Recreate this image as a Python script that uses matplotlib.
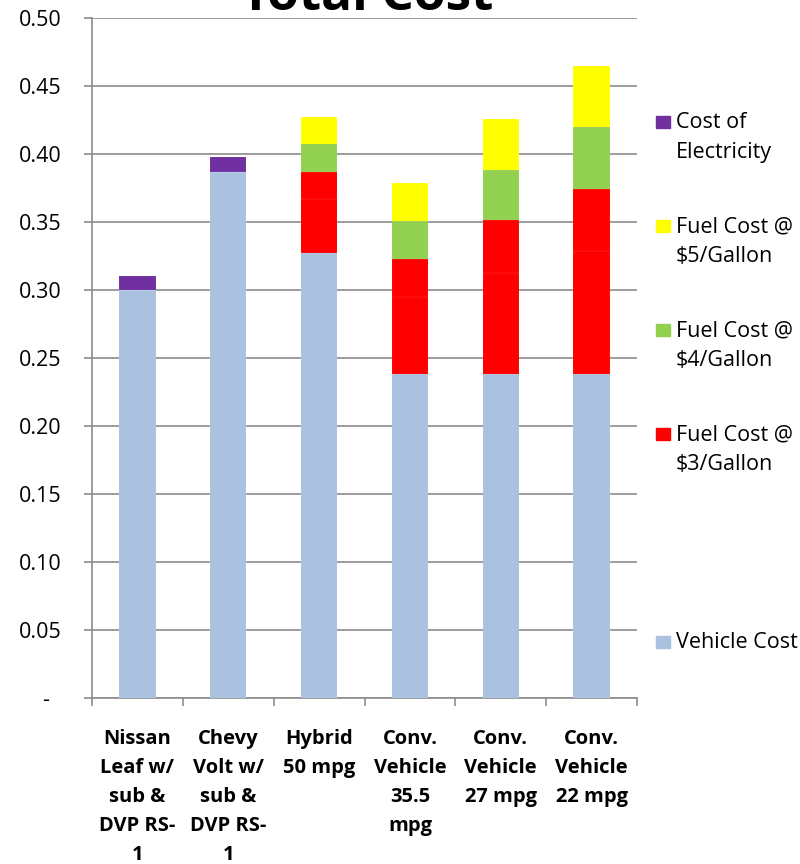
import matplotlib.pyplot as plt
import numpy as np

plt.rcParams['font.family'] = ['Open Sans', 'DejaVu Sans']

categories = [
    "Nissan\nLeaf w/\nsub &\nDVP RS-\n1",
    "Chevy\nVolt w/\nsub &\nDVP RS-\n1",
    "Hybrid\n50 mpg",
    "Conv.\nVehicle\n35.5\nmpg",
    "Conv.\nVehicle\n27 mpg",
    "Conv.\nVehicle\n22 mpg",
]

# stacked values, bottom to top
vehicle_cost = [0.300, 0.387, 0.327, 0.238, 0.238, 0.238]
fuel_base = [0.0, 0.0, 0.040, 0.0565, 0.0745, 0.0905]   # unlabeled red part
fuel_3 = [0.0, 0.0, 0.020, 0.028, 0.039, 0.0455]
fuel_4 = [0.0, 0.0, 0.020, 0.028, 0.037, 0.0455]
fuel_5 = [0.0, 0.0, 0.020, 0.028, 0.037, 0.0455]
electricity = [0.0103, 0.011, 0.0, 0.0, 0.0, 0.0]

series = [
    ("Vehicle Cost", vehicle_cost, "#AAC1DF"),
    ("", fuel_base, "#FF0000"),
    ("Fuel Cost @\n$3/Gallon", fuel_3, "#FF0000"),
    ("Fuel Cost @\n$4/Gallon", fuel_4, "#92D050"),
    ("Fuel Cost @\n$5/Gallon", fuel_5, "#FFFF00"),
    ("Cost of\nElectricity", electricity, "#7030A0"),
]

W, H = 800, 864
fig = plt.figure(figsize=(W / 100, H / 100), dpi=100)
ax = fig.add_axes([92 / W, 1 - 698 / H, (637 - 92) / W, (698 - 18) / H])

x = np.arange(len(categories))
bottom = np.zeros(len(categories))
for name, vals, color in series:
    vals = np.array(vals)
    ax.bar(x, vals, 0.4, bottom=bottom, color=color, edgecolor="#FFFFFF40",
           linewidth=0.2, zorder=3)
    bottom += vals

grid_c = "#8C8C8C"
ax.set_xlim(-0.5, len(categories) - 0.5)
ax.set_ylim(0, 0.5)
yt = np.arange(0, 0.501, 0.05)
ax.set_yticks(yt)
ax.set_yticklabels(["-  "] + ["%.2f" % v for v in yt[1:]])
ax.yaxis.grid(True, color=grid_c, linewidth=1.2, zorder=0)
ax.set_axisbelow(True)

ax.set_xticks(x)
ax.set_xticklabels(categories, fontweight="bold", linespacing=1.6)
ax.set_xticks(np.arange(-0.5, len(categories)), minor=True)
ax.tick_params(axis="x", which="major", length=0, pad=22, labelsize=14.5)
ax.tick_params(axis="x", which="minor", length=6, width=1.2, color=grid_c)
ax.tick_params(axis="y", length=6, width=1.2, color=grid_c, pad=16, labelsize=15.5)

for s in ["top", "right"]:
    ax.spines[s].set_visible(False)
for s in ["left", "bottom"]:
    ax.spines[s].set_color(grid_c)
    ax.spines[s].set_linewidth(1.2)

# legend, top to bottom, drawn as in the original (first line beside the key)
step = 104
for i, (name, vals, color) in enumerate(reversed(series)):
    base = 128 + step * i
    if name:
        ax.add_patch(plt.Rectangle((656 / W, 1 - base / H), 14 / W, 12 / H,
                                   transform=fig.transFigure, color=color,
                                   clip_on=False))
        for k, line in enumerate(name.split("\n")):
            fig.text(676 / W, 1 - (base + 30 * k) / H, line, fontsize=15.5,
                     va="baseline", ha="left")

fig.text(367 / W, 1 - 10 / H, "Total Cost", fontsize=37, fontweight="bold",
         ha="center", va="baseline")

fig.savefig("out.png", dpi=100)
